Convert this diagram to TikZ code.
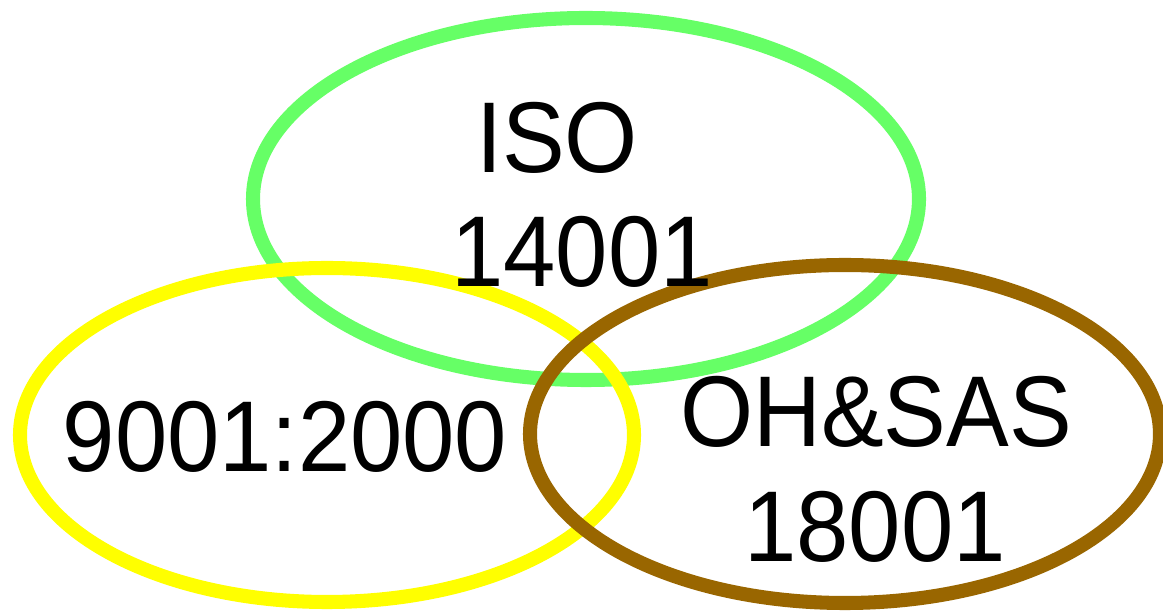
\documentclass[tikz,border=0pt]{standalone}
\usepackage{fontspec}
\usepackage{graphicx}
\setmainfont{Liberation Sans}
\usetikzlibrary{positioning, shapes.geometric}
\definecolor{isoGreen}{HTML}{66FF66}
\definecolor{qmsYellow}{HTML}{FFFF00}
\definecolor{ohsBrown}{HTML}{996600}
\newcommand{\stdtext}[1]{\scalebox{1}[1.07]{#1}}

\begin{document}
\begin{tikzpicture}[
		ring/.style={ellipse, draw, line width=8pt, inner sep=0pt},
		label/.style={font=\fontsize{53.5}{60}\selectfont, inner sep=0pt}
	]
		
		%Frame of the picture
		\useasboundingbox (0,0) rectangle (23.26,12.24);
		
		%The three ellipses
		\node (isoRing) at (11.72,8.26) [ring, isoGreen, minimum width=13.32cm, minimum height=7.24cm]{};
		\node (qmsRing) at (6.54,3.54) [ring, qmsYellow, minimum width=12.28cm, minimum height=6.68cm]{};
		\node (ohsRing) at (16.9,3.56) [ring, ohsBrown, minimum width=12.6cm, minimum height=6.76cm]{};
		
		%Texts of the standards
		\node (isoName) at (11.14,9.48) [label]{\stdtext{ISO}};
		\node (isoNumber) at (11.64,7.2) [label]{\stdtext{14001}};
		\node (qmsNumber) at (5.7,3.5) [label]{\stdtext{9001:2000}};
		\node (ohsName) at (17.52,4.0) [label]{\stdtext{OH\&SAS}};
		\node (ohsNumber) at (17.5,1.7) [label]{\stdtext{18001}};
		
\end{tikzpicture}
\end{document}
